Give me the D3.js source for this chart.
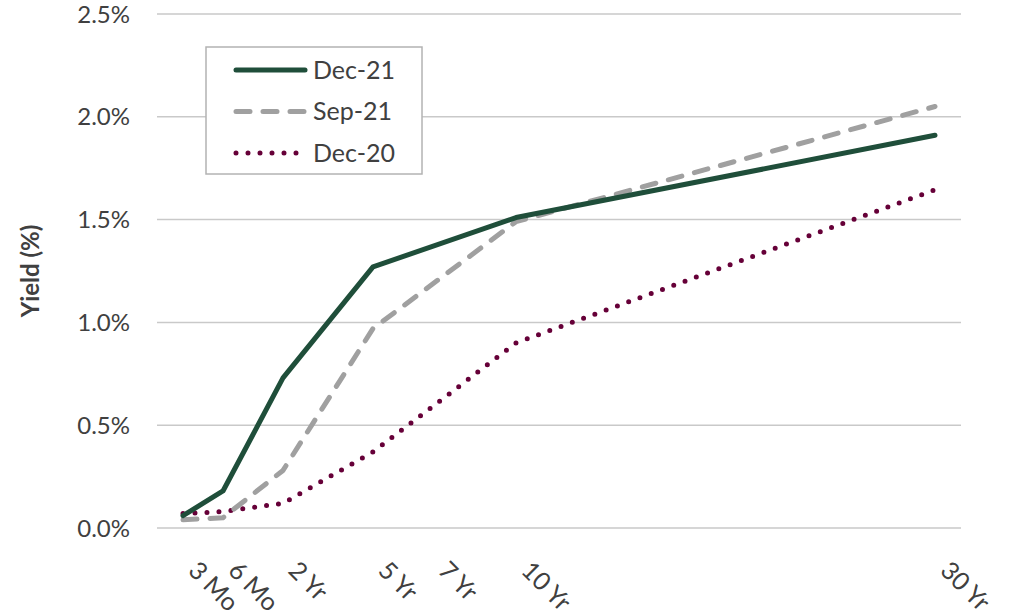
<!DOCTYPE html>
<html>
<head>
<meta charset="utf-8">
<script src="https://cdn.jsdelivr.net/npm/d3@7"></script>
<style>
  body { margin: 0; background: #fff; }
  text { font-family: Lato, "Liberation Sans", sans-serif; }
</style>
</head>
<body>
<script>
// tenor labels and their maturity in years
var tenors = ["3 Mo", "6 Mo", "2 Yr", "5 Yr", "7 Yr", "10 Yr", "30 Yr"];
var tenorYears = [0.25, 0.5, 2, 5, 7, 10, 30];

// yields in %, null where the curve has no point
var dec21 = [0.06, 0.18, 0.73, 1.27, null, 1.51, 1.91];
var sep21 = [0.04, 0.05, 0.28, 0.97, null, 1.49, 2.05];
var dec20 = [0.07, 0.08, 0.12, 0.37, null, 0.90, 1.645];

var yTicks = [0, 0.5, 1.0, 1.5, 2.0, 2.5];

var width = 1009, height = 616;
var margin = {top: 14, right: 48, bottom: 88, left: 157};

var svg = d3.select("body").append("svg")
  .attr("width", width)
  .attr("height", height);

var plotW = width - margin.left - margin.right;
var plotH = height - margin.top - margin.bottom;

var g = svg.append("g")
  .attr("transform", "translate(" + margin.left + "," + margin.top + ")");

// the original axis spaces the tenors unevenly, so map each one to its spot
var x = d3.scaleLinear()
  .domain(tenorYears)
  .range([26, 66, 126, 216, 276, 359, 778]);

var y = d3.scaleLinear()
  .domain([0, 2.5])
  .range([plotH, 0]);

// gridlines
g.selectAll(".grid")
  .data(yTicks)
.enter().append("line")
  .attr("x1", 0)
  .attr("x2", plotW)
  .attr("y1", function(d) { return y(d); })
  .attr("y2", function(d) { return y(d); })
  .style("stroke", "#c9c9c9")
  .style("stroke-width", 1.5);

// y axis labels
var yAxis = d3.axisLeft(y)
  .tickValues(yTicks)
  .tickSize(0)
  .tickPadding(27)
  .tickFormat(function(d) { return d3.format(".1f")(d) + "%"; });

g.append("g")
  .call(yAxis)
  .call(function(a) { a.select(".domain").remove(); })
  .selectAll("text")
  .attr("dy", "0.34em")
  .style("font-size", "24px")
  .style("fill", "#404040");

svg.append("text")
  .attr("transform", "translate(39,271) rotate(-90)")
  .attr("text-anchor", "middle")
  .style("font-size", "24px")
  .style("font-weight", "bold")
  .style("fill", "#404040")
  .text("Yield (%)");

// x axis labels, rotated
g.selectAll(".xlab")
  .data(tenors)
.enter().append("text")
  .attr("transform", function(d, i) {
    return "translate(" + (x(tenorYears[i]) + 4) + "," + (plotH + 44) + ") rotate(45)";
  })
  .style("font-size", "25px")
  .style("fill", "#404040")
  .text(function(d) { return d; });

var series = [
  {name: "Dec-21", values: dec21, color: "#1f4e3a", dash: null, cap: "round"},
  {name: "Sep-21", values: sep21, color: "#a0a0a0", dash: "14 13", cap: "round"},
  {name: "Dec-20", values: dec20, color: "#660038", dash: "0 12", cap: "round"}
];

var line = d3.line()
  .x(function(d) { return x(d.t); })
  .y(function(d) { return y(d.v); });

// draw back to front so Dec-21 sits on top
series.slice().reverse().forEach(function(s) {
  var pts = s.values.map(function(v, i) { return {t: tenorYears[i], v: v}; })
    .filter(function(d) { return d.v != null; });
  g.append("path")
    .datum(pts)
    .attr("d", line)
    .style("fill", "none")
    .style("stroke", s.color)
    .style("stroke-width", 5)
    .style("stroke-linecap", s.cap)
    .style("stroke-linejoin", "round")
    .style("stroke-dasharray", s.dash);
});

// legend
var legend = svg.append("g").attr("transform", "translate(206,47)");

legend.append("rect")
  .attr("width", 216)
  .attr("height", 127)
  .style("fill", "#fff")
  .style("stroke", "#b3b3b3")
  .style("stroke-width", 1.5);

var row = legend.selectAll(".row")
  .data(series)
.enter().append("g")
  .attr("transform", function(d, i) { return "translate(0," + (23 + i * 41.5) + ")"; });

row.append("line")
  .attr("x1", 30)
  .attr("x2", 99)
  .style("stroke", function(d) { return d.color; })
  .style("stroke-width", 5)
  .style("stroke-linecap", function(d) { return d.cap; })
  .style("stroke-dasharray", function(d) { return d.dash; });

row.append("text")
  .attr("x", 107)
  .attr("dy", "0.35em")
  .style("font-size", "25px")
  .style("fill", "#404040")
  .text(function(d) { return d.name; });
</script>
</body>
</html>
